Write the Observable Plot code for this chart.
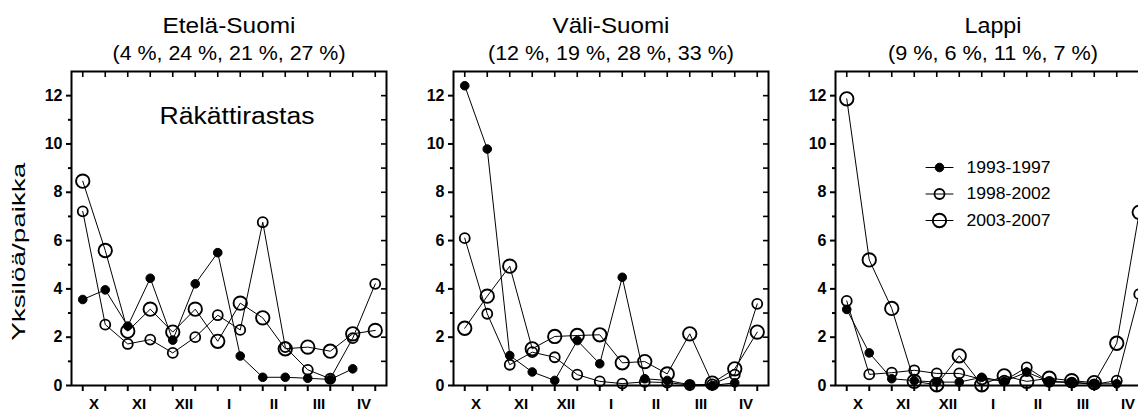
<!DOCTYPE html>
<html><head><meta charset="utf-8">
<script src="https://cdn.jsdelivr.net/npm/d3@7"></script>
<script src="https://cdn.jsdelivr.net/npm/@observablehq/plot@0.6"></script>
<style>
html,body{margin:0;padding:0;background:#fff;overflow:hidden;}
#chart{width:1138px;height:412px;overflow:hidden;position:relative;}
</style></head><body><div id="chart"></div>
<script>
const regions = ["Etelä-Suomi", "Väli-Suomi", "Lappi"];
const regionShares = ["(4 %, 24 %, 21 %, 27 %)", "(12 %, 19 %, 28 %, 33 %)", "(9 %, 6 %, 11 %, 7 %)"];
const periods = ["1993-1997", "1998-2002", "2003-2007"];
const monthLabels = ["X", "XI", "XII", "I", "II", "III", "IV"];
const species = "Räkättirastas";
const yLabel = "Yksilöä/paikka";
const yTicks = [0, 2, 4, 6, 8, 10, 12];

// half-month observation periods, index 0..13 (X/1 ... IV/2)
const etela1993 = [3.56, 3.96, 2.46, 4.44, 1.88, 4.21, 5.50, 1.22, 0.34, 0.34, 0.30, 0.25, 0.69, null];
const etela1998 = [7.21, 2.52, 1.72, 1.90, 1.35, 2.00, 2.91, 2.30, 6.76, 1.59, 0.65, 0.28, 1.96, 4.21];
const etela2003 = [8.46, 5.59, 2.25, 3.16, 2.21, 3.16, 1.83, 3.41, 2.80, 1.52, 1.59, 1.42, 2.14, 2.28];
const vali1993 = [12.41, 9.79, 1.24, 0.56, 0.21, 1.86, 0.90, 4.48, 0.28, 0.21, 0.03, 0.00, 0.11, null];
const vali1998 = [6.10, 2.97, 0.86, 1.38, 1.17, 0.45, 0.17, 0.08, 0.15, 0.12, 0.02, 0.05, 0.45, 3.38];
const vali2003 = [2.37, 3.70, 4.94, 1.52, 2.03, 2.07, 2.10, 0.94, 0.99, 0.48, 2.14, 0.10, 0.69, 2.21];
const lappi1993 = [3.15, 1.35, 0.28, 0.20, 0.14, 0.14, 0.34, 0.17, 0.55, 0.17, 0.14, 0.07, 0.07, null];
const lappi1998 = [3.50, 0.46, 0.53, 0.63, 0.50, 0.50, 0.25, 0.20, 0.75, 0.15, 0.12, 0.05, 0.20, 3.78];
const lappi2003 = [11.87, 5.20, 3.19, 0.17, 0.03, 1.23, 0.03, 0.40, 0.17, 0.30, 0.20, 0.12, 1.75, 7.17];

const seriesByRegion = {
  "Etelä-Suomi": [etela1993, etela1998, etela2003],
  "Väli-Suomi": [vali1993, vali1998, vali2003],
  "Lappi": [lappi1993, lappi1998, lappi2003]
};

const rows = [];
regions.forEach(reg => seriesByRegion[reg].forEach((vals, s) => vals.forEach((v, i) => {
  if (v != null) rows.push({region: reg, period: periods[s], i, value: v});
})));

const markerStyle = {
  "1993-1997": {r: 4.3, fill: "black", stroke: "black", strokeWidth: 1},
  "1998-2002": {r: 5, fill: "none", stroke: "black", strokeWidth: 1.8},
  "2003-2007": {r: 6.7, fill: "none", stroke: "black", strokeWidth: 1.9}
};

const lineShape = {draw(context, l) { context.moveTo(0, 0); context.lineTo(0, -l); }};
const font = "'Liberation Sans', Arial, Helvetica, sans-serif";

const legendMarks = periods.flatMap((p, s) => [
  Plot.vector([p], {fx: () => "Lappi", frameAnchor: "top-left", dx: 104, dy: 96 + s * 26.5, length: 27, rotate: 90, anchor: "middle", shape: lineShape, stroke: "black", strokeWidth: 1}),
  Plot.dot([p], {fx: () => "Lappi", frameAnchor: "top-left", dx: 104, dy: 96 + s * 26.5, ...markerStyle[p]}),
  Plot.text([p], {fx: () => "Lappi", frameAnchor: "top-left", dx: 131, dy: 96 + s * 26.5, text: d => d, textAnchor: "start", lineAnchor: "middle", fontSize: 17, fontWeight: "normal"})
]);

const chart = Plot.plot({
  width: 1150,
  height: 412,
  marginLeft: 71,
  marginRight: 0,
  marginTop: 71,
  marginBottom: 27,
  style: {fontFamily: font, fontSize: "16px", fontWeight: "bold", color: "black", background: "white", maxWidth: "none", overflow: "visible"},
  fx: {domain: regions, paddingInner: 67 / 382, paddingOuter: 0, axis: null},
  x: {domain: [-0.5, 13.5]},
  y: {domain: [0, 13]},
  marks: [
    Plot.frame({strokeWidth: 2}),
    Plot.axisY(yTicks, {anchor: "left", tickSize: 5, tickPadding: 4, strokeWidth: 2, fontSize: 16, fontWeight: "bold", facetAnchor: null, label: null}),
    Plot.axisY(d3.range(1, 13, 2), {anchor: "left", tickSize: 3, text: null, strokeWidth: 2, facetAnchor: null, label: null}),
    Plot.axisY(d3.range(1, 13), {anchor: "left", frameAnchor: "right", tickSize: 5, text: null, strokeWidth: 1.6, facetAnchor: null, label: null}),
    Plot.axisX(d3.range(0, 14), {anchor: "bottom", tickSize: 6, text: null, strokeWidth: 2, facetAnchor: null, label: null}),
    Plot.axisX(d3.range(0, 14), {anchor: "bottom", frameAnchor: "top", tickSize: 6, text: null, strokeWidth: 1.6, facetAnchor: null, label: null}),
    Plot.axisX(monthLabels.map((m, k) => 2 * k + 0.5), {anchor: "bottom", tickSize: 0, tickPadding: 13, tickFormat: d => monthLabels[(d - 0.5) / 2], fontSize: 15, fontWeight: "bold", facetAnchor: null, label: null}),
    Plot.line(rows, {fx: "region", x: "i", y: "value", z: "period", stroke: "black", strokeWidth: 1}),
    ...periods.slice().reverse().map(p => Plot.dot(rows.filter(d => d.period === p), {fx: "region", x: "i", y: "value", ...markerStyle[p]})),
    Plot.text(regions, {fx: d => d, text: d => d, frameAnchor: "top", dy: -39, lineAnchor: "bottom", fontSize: 22, fontWeight: "normal"}),
    Plot.text(regions, {fx: d => d, text: (d, i) => regionShares[i], frameAnchor: "top", dy: -12, lineAnchor: "bottom", fontSize: 20, fontWeight: "normal"}),
    Plot.text([species], {fx: () => regions[0], text: d => d, frameAnchor: "top", dx: 8, dy: 52, lineAnchor: "bottom", fontSize: 23, fontWeight: "normal"}),
    Plot.text([yLabel], {fx: () => regions[0], y: () => 1.85, text: d => d, frameAnchor: "left", rotate: -90, dx: -53, textAnchor: "start", lineAnchor: "middle", fontSize: 19, fontWeight: "normal"}),
    ...legendMarks
  ]
});

// fit text widths to the reference
const widths = {
  "Etelä-Suomi": 133, "Väli-Suomi": 117, "Lappi": 57,
  "(4 %, 24 %, 21 %, 27 %)": 233, "(12 %, 19 %, 28 %, 33 %)": 246, "(9 %, 6 %, 11 %, 7 %)": 210,
  "Räkättirastas": 155, "1993-1997": 84, "1998-2002": 84, "2003-2007": 84, "Yksilöä/paikka": 178
};
chart.querySelectorAll("text").forEach(t => {
  const w = widths[t.textContent];
  if (w) { t.setAttribute("textLength", w); t.setAttribute("lengthAdjust", "spacingAndGlyphs"); }
});

document.getElementById("chart").appendChild(chart);
</script></body></html>
